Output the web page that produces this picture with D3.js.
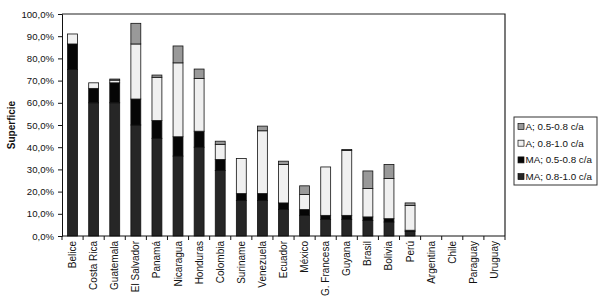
<!DOCTYPE html>
<html><head><meta charset="utf-8">
<script src="https://cdn.jsdelivr.net/npm/d3@7"></script>
<style>body{margin:0;background:#fff}svg{display:block}text{font-family:"Liberation Sans",Arial,sans-serif;fill:#111}</style>
</head><body><svg id="c" width="600" height="304"></svg>
<script>
const categories = ["Belice","Costa Rica","Guatemala","El Salvador","Panamá","Nicaragua","Honduras","Colombia","Suriname","Venezuela","Ecuador","México","G. Francesa","Guyana","Brasil","Bolivia","Perú","Argentina","Chile","Paraguay","Uruguay"];
const seriesNames = ["MA; 0.8-1.0 c/a","MA; 0.5-0.8 c/a","A; 0.8-1.0 c/a","A; 0.5-0.8 c/a"];
const ma08 = [75,60,60,50,44,36,40,29.5,16,16,12,9.3,7.5,7.5,7,6.3,2,0,0,0,0];
const ma05 = [11.5,6.5,9,11.7,8,8.7,7.2,5,3.1,3.1,2.9,2.6,1.8,1.8,1.6,1.5,0.6,0,0,0,0];
const a08  = [4.5,2.5,1.2,24.8,19.5,33.3,23.8,6.8,15.8,28.3,17.3,6.8,21.8,29.2,12.8,18.1,11.2,0,0,0,0];
const a05  = [0,0,0.5,9.3,1,7.6,4.2,1.4,0,2.1,1.5,3.9,0,0.5,7.9,6.3,1.1,0,0,0,0];
const yTicks = [0,10,20,30,40,50,60,70,80,90,100];
const colors = ["#262626","#060606","#f0f0f0","#999999"];

const svg = d3.select("#c");
const L=62,R=505,T=14,B=236;
const x = d3.scaleBand().domain(categories).range([L,R]).paddingInner(0.53).paddingOuter(0.265);
const y = d3.scaleLinear().domain([0,100]).range([B,T]);

const rows = categories.map((c,i)=>({cat:c, s0:ma08[i], s1:ma05[i], s2:a08[i], s3:a05[i]}));
const stack = d3.stack().keys(["s0","s1","s2","s3"])(rows);

svg.append("path").attr("d",`M${L},${T}H${R}V${B}`).attr("fill","none").attr("stroke","#222").attr("stroke-width",1.2);

const g = svg.append("g");
stack.forEach((layer,k)=>{
  g.selectAll(null).data(layer.filter(d=>d[1]-d[0]>0)).enter().append("rect")
    .attr("x",d=>x(d.data.cat)).attr("width",x.bandwidth())
    .attr("y",d=>y(d[1])).attr("height",d=>y(d[0])-y(d[1]))
    .attr("fill",colors[k]).attr("stroke","#111").attr("stroke-width",0.8);
});

const ya = svg.append("g").attr("transform",`translate(${L},0)`)
  .call(d3.axisLeft(y).tickValues(yTicks).tickSize(4).tickPadding(4)
    .tickFormat(d=>d.toFixed(1).replace(".",",")+"%"));
ya.selectAll("text").style("font-size","9.6px");
ya.selectAll("line,path").attr("stroke","#111");

svg.append("line").attr("x1",L).attr("x2",R).attr("y1",B).attr("y2",B).attr("stroke","#111");
d3.range(categories.length+1).forEach(k=>{
  const xx = L + k*(R-L)/categories.length;
  svg.append("line").attr("x1",xx).attr("x2",xx).attr("y1",B).attr("y2",B+4).attr("stroke","#111");
});
svg.selectAll(".xl").data(categories).enter().append("text")
  .attr("transform",d=>`translate(${x(d)+x.bandwidth()/2+3.5},${B+5}) rotate(-90)`)
  .attr("text-anchor","end").style("font-size","10px").text(d=>d);

svg.append("text").attr("transform","translate(14.5,125) rotate(-90)").attr("text-anchor","middle")
  .style("font-size","10px").style("font-weight","bold").text("Superficie");

const lg = svg.append("g");
lg.append("rect").attr("x",514).attr("y",117).attr("width",83).attr("height",68).attr("fill","#fff").attr("stroke","#333").attr("stroke-width",1);
const legOrder = [3,2,1,0];
legOrder.forEach((k,j)=>{
  const yy = 126.5 + j*16.7;
  lg.append("rect").attr("x",518).attr("y",yy-3).attr("width",6).attr("height",6).attr("fill",colors[k]).attr("stroke","#111").attr("stroke-width",0.7);
  lg.append("text").attr("x",525.5).attr("y",yy+3.5).style("font-size","9.8px").text(seriesNames[k]);
});
</script></body></html>
